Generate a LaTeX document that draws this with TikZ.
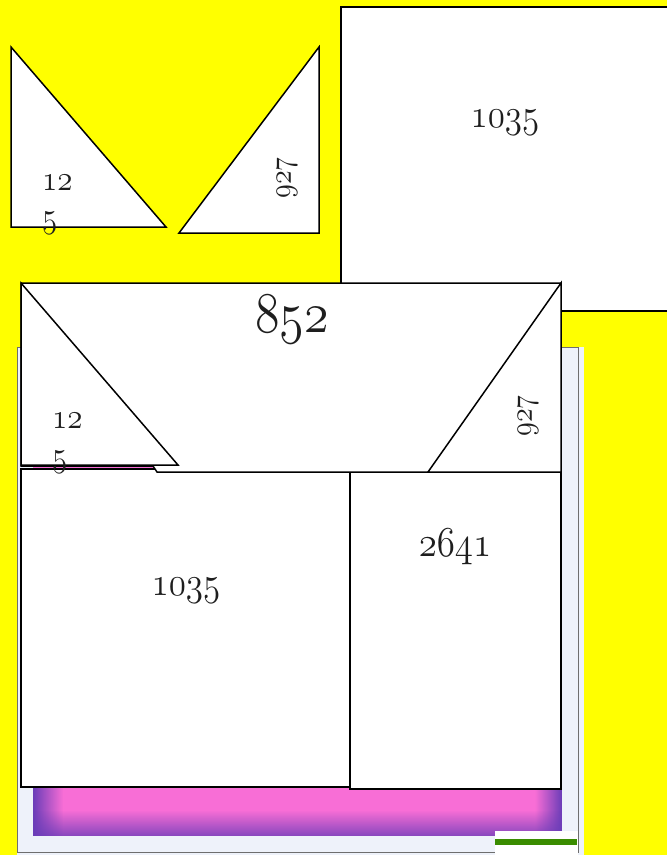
\documentclass[tikz,border=0pt]{standalone}
\usepackage{graphicx}
\usetikzlibrary{fadings}
\definecolor{bgyellow}{HTML}{FFFF00}
\definecolor{panelbg}{HTML}{EEF2FA}
\definecolor{panelline}{HTML}{6E6E6E}
\definecolor{barpink}{HTML}{F86ED6}
\definecolor{barpurple}{HTML}{6A3DB8}
\definecolor{bargreen}{HTML}{3A8C00}
\definecolor{inkcol}{HTML}{1E1E1E}
\DeclareFontFamily{OML}{myosf}{\skewchar\font=127}
\DeclareFontShape{OML}{myosf}{m}{it}{<->cmmi12}{}
\newcommand\osn[1]{\scalebox{1}[1.15]{\usefont{OML}{myosf}{m}{it}#1}}
\tikzset{
  shapebox/.style={draw=black, fill=white, line width=1.5pt, line join=miter},
  lbl/.style={inner sep=0pt, text=inkcol},
}
\begin{document}
\begin{tikzpicture}[x=1pt,y=-1pt]
\useasboundingbox (0,0) rectangle (667,855);
\clip (0,0) rectangle (667,855);
\fill[bgyellow] (0,0) rectangle (667,855);
% top shapes
\draw[shapebox] (11,47) -- (11,227) -- (166,227) -- cycle;
\draw[shapebox] (319,47) -- (319,233) -- (179,233) -- cycle;
\draw[shapebox] (341,7) rectangle (675,311);
% panel
\fill[panelbg] (17,347) rectangle (584,860);
\draw[panelline, line width=1pt] (17,347) rectangle (578,852);
% magenta bar
\fill[barpink] (33,787) rectangle (562,836);
\fill[barpurple, path fading=east] (33,787) rectangle (63,836);
\fill[barpurple, path fading=west] (535,787) rectangle (562,836);
\fill[barpurple, opacity=0.8, path fading=north] (33,810) rectangle (562,836);
% green marker
\fill[white] (495,831) rectangle (578,858);
\fill[bargreen] (495,839) rectangle (577,845);
% lower rooms
\draw[shapebox] (21,469) rectangle (350,787);
\draw[shapebox] (350,472) rectangle (561,789);
\draw[barpink, line width=1pt] (33,467.5) -- (153,467.5);
% 852 shape
\draw[shapebox] (21,283) -- (561,283) -- (561,472) -- (157,472) -- (153,466) -- (21,466) -- cycle;
\draw[shapebox] (21,283) -- (21,465) -- (178,465) -- cycle;
\draw[shapebox] (561,283) -- (561,472) -- (428,472) -- cycle;
% labels
\node[lbl, anchor=base west, font=\fontsize{31}{36}\selectfont] (ta12) at (42,190) {\osn{12}};
\node[lbl, anchor=base west, font=\fontsize{31}{36}\selectfont] (ta5) at (42,227) {\osn{5}};
\node[lbl, rotate=90, font=\fontsize{28}{32}\selectfont] (ta927) at (287,178) {\osn{927}};
\node[lbl, anchor=base, font=\fontsize{35}{40}\selectfont] (ta1035) at (505,127) {\osn{1035}};
\node[lbl, anchor=base, font=\fontsize{50}{56}\selectfont] (t852) at (292,332) {\osn{852}};
\node[lbl, anchor=base west, font=\fontsize{31}{36}\selectfont] (tb12) at (52,428) {\osn{12}};
\node[lbl, anchor=base west, font=\fontsize{31}{36}\selectfont] (tb5) at (52,466) {\osn{5}};
\node[lbl, rotate=90, font=\fontsize{28}{32}\selectfont] (tb927) at (528,416) {\osn{927}};
\node[lbl, anchor=base, font=\fontsize{35}{40}\selectfont] (tb1035) at (186,595) {\osn{1035}};
\node[lbl, anchor=base, font=\fontsize{37}{42}\selectfont] (tb2641) at (455,556) {\osn{2641}};
\end{tikzpicture}
\end{document}
